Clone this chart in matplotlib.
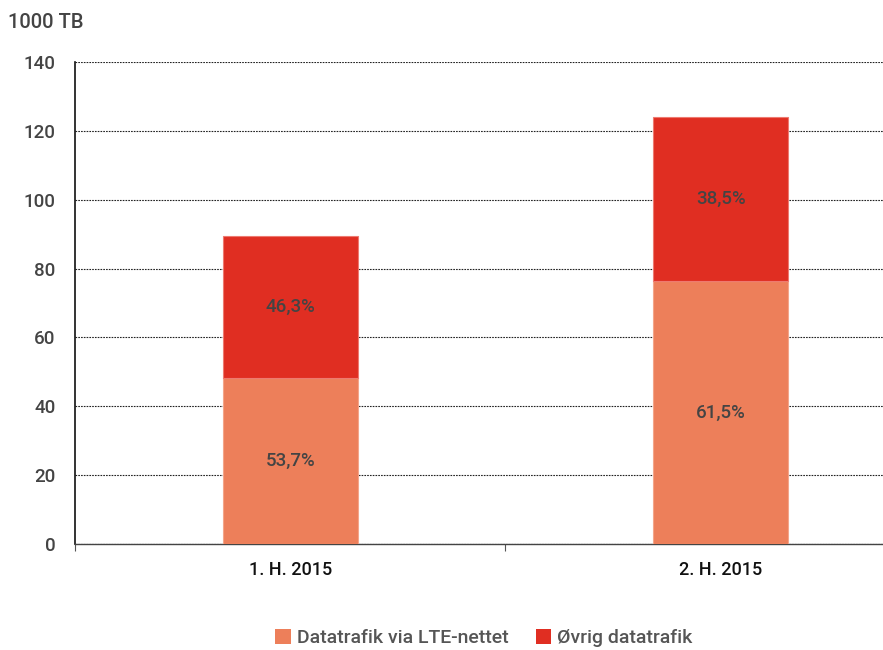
import matplotlib.pyplot as plt
from matplotlib.patches import Patch

plt.rcParams['font.family'] = ['Roboto', 'DejaVu Sans']

categories = ['1. H. 2015', '2. H. 2015']
lte = [48.1, 76.3]
other = [41.4, 47.7]
lte_pct = ['53,7%', '61,5%']
other_pct = ['46,3%', '38,5%']

c_lte = '#ED7F5A'
c_other = '#E02E22'

fig = plt.figure(figsize=(8.83, 6.5), dpi=100)
ax = fig.add_axes([0.085, 0.163, 0.915, 0.7417])

x = range(len(categories))
w = 0.313
ax.bar(x, lte, w, color=c_lte, edgecolor='#F4A58A', linewidth=0.8, zorder=3)
ax.bar(x, other, w, bottom=lte, color=c_other, edgecolor='#EE7A70', linewidth=0.8, zorder=3)

for i in x:
    ax.text(i, lte[i] / 2, lte_pct[i], ha='center', va='center', fontsize=13.5,
            fontweight='medium', color='#444444', zorder=4)
    ax.text(i, lte[i] + other[i] / 2, other_pct[i], ha='center', va='center', fontsize=13.5,
            fontweight='medium', color='#444444', zorder=4)

ax.set_ylim(0, 140)
ax.set_yticks(range(0, 141, 20))
ax.set_xticks(list(x))
ax.set_xticklabels(categories, fontsize=13, fontweight='medium', color='#111111')
ax.set_xticks([-0.5, 0.5], minor=True)
ax.set_xlim(-0.5, 1.377)
ax.tick_params(axis='x', which='major', length=0, pad=12)
ax.tick_params(axis='x', which='minor', length=5, color='#555555', width=0.8)
ax.tick_params(axis='y', length=0, labelsize=13.5, labelcolor='#444444', pad=14)
for lbl in ax.get_yticklabels():
    lbl.set_fontweight('medium')

ax.grid(axis='y', linestyle=(0, (1.5, 1)), color='#222222', linewidth=0.8, zorder=0)
ax.spines['right'].set_visible(False)
ax.spines['top'].set_visible(False)
ax.spines['left'].set_color('#111111')
ax.spines['left'].set_linewidth(1.2)
ax.spines['bottom'].set_color('#444444')
ax.spines['bottom'].set_linewidth(1.0)

fig.text(0.009, 0.966, '1000 TB', fontsize=14.5, fontweight='medium', color='#444444',
         va='center', ha='left')

handles = [Patch(facecolor=c_lte, label='Datatrafik via LTE-nettet'),
           Patch(facecolor=c_other, label='Øvrig datatrafik')]
fig.legend(handles=handles, loc='center', bbox_to_anchor=(0.548, 0.018), ncol=2, frameon=False,
           prop={'size': 14, 'weight': 'medium'}, labelcolor='#555555',
           handlelength=0.8, handleheight=0.8, handletextpad=0.3, columnspacing=1.4)

fig.savefig('out.png', dpi=100)
